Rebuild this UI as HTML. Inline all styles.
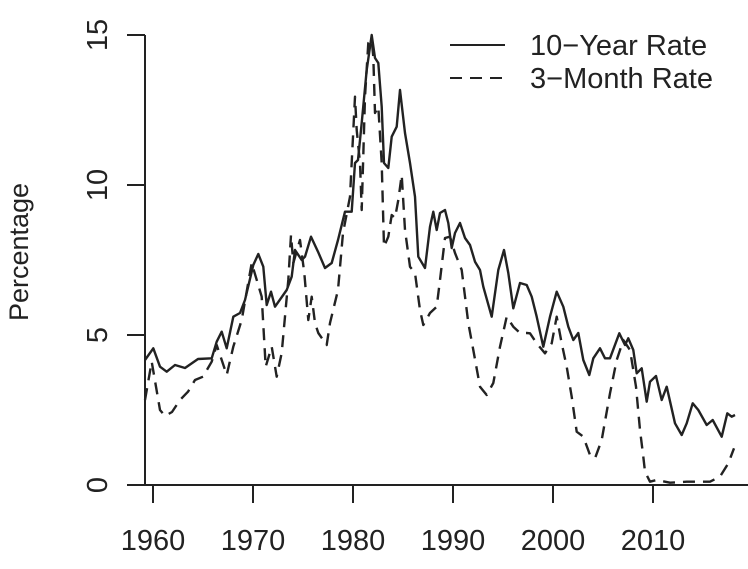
<!DOCTYPE html>
<html><head><style>body{margin:0;background:#fff}svg{display:block}text{font-family:"Liberation Sans",sans-serif;fill:#222}</style></head>
<body>
<svg width="748" height="569" viewBox="0 0 748 569">
<g stroke="#222" stroke-width="2" fill="none">
<line x1="145" y1="35" x2="145" y2="485"/>
<line x1="127" y1="35" x2="145" y2="35"/><line x1="127" y1="185" x2="145" y2="185"/><line x1="127" y1="335" x2="145" y2="335"/><line x1="127" y1="485" x2="145" y2="485"/>
<line x1="127" y1="485" x2="748" y2="485"/>
<line x1="153" y1="485" x2="153" y2="503"/><line x1="253" y1="485" x2="253" y2="503"/><line x1="353" y1="485" x2="353" y2="503"/><line x1="453" y1="485" x2="453" y2="503"/><line x1="553" y1="485" x2="553" y2="503"/><line x1="653" y1="485" x2="653" y2="503"/>
<line x1="450" y1="45" x2="505" y2="45"/>
<line x1="450" y1="78" x2="505" y2="78" stroke-dasharray="12,8"/>
</g>
<g stroke="#222" stroke-width="2.4" fill="none" stroke-linejoin="round">
<path d="M145,360 L153.3,348.3 L160,366.7 L166.7,371.7 L175,365 L185,368 L198,359 L211.7,358.3 L216.7,341.7 L221.7,331.7 L226.7,348.3 L233.3,316.7 L240,313 L245,300 L253.3,265 L258.3,254 L263.3,266.7 L266.7,305 L271,291.7 L275,306.7 L286.7,290 L291.7,276.7 L295,250 L301.7,260 L305,256.7 L311,236.7 L318,251.7 L325,268 L331.7,263 L338,240 L345,211.7 L351.7,211.7 L355,163 L358,160 L361.7,123 L366.7,70 L371.7,35 L375,58 L378.3,63 L381.7,106.7 L384,163 L388.3,168 L391.7,136.7 L396.7,126.7 L400,90 L405,133 L410,163 L415,196.7 L418.3,256.7 L425,268 L430,226.7 L433.3,211.7 L436.7,230 L440,213 L445,210 L448.3,223 L451.7,248 L455,233 L460,223 L465,238 L470,245 L475,261.7 L480,270 L483.3,286.7 L491.7,316.7 L498.3,270 L504,250 L508.3,273 L513.3,308.3 L520,283 L526.7,285 L531.7,296.7 L536.7,316.7 L543.3,346.7 L550,316.7 L556.7,291.7 L563.3,306.7 L568.3,326.7 L573.3,340 L578.3,333 L583.3,360 L589.3,375 L593.3,358.3 L600,348.3 L605,358.3 L610,358.3 L619.3,333.3 L625,345 L628.3,338.3 L633.3,350 L636.7,373.3 L641.7,368.3 L646.7,401.7 L650,381.7 L656,376 L661.7,400 L666.7,386.7 L675,423.3 L681.7,435 L686.7,423.3 L692.7,403.3 L698.3,410 L706.7,425 L712.7,420 L721.7,436.7 L727.3,413.3 L731.7,416.7 L735,415"/>
<path stroke-dasharray="12,8" d="M145,400 L151.7,361.7 L160,410 L165,416 L172,412 L180,400 L188,391.7 L195,380 L203,376.7 L211.7,361.7 L216.7,345 L226.7,375 L233.3,346.7 L241.7,320 L251.7,263 L261.7,296.7 L265.7,366.7 L271.7,346.7 L276.7,376.7 L281.7,353 L288.3,280 L291,235 L293.3,263 L300,240 L304.3,273 L308.3,320 L311.7,296.7 L315,323 L318.3,333 L326.7,345 L330,323 L338,290 L343,233 L350,196.7 L355,96.7 L356.7,130 L360,163 L361.7,210 L365,96.7 L368.3,43 L371.7,40 L373.3,56.7 L375,113 L378.3,106.7 L381.7,163 L384,246.7 L388.3,236.7 L391.7,215 L395,218 L398.3,200 L401.7,175 L405,230 L410,266.7 L415,273 L420,310 L423.3,325 L430,313 L436.7,306.7 L440,280 L445,238 L450,236.7 L455,253 L461.7,270 L468.3,323 L473.3,350 L480,386.7 L486.7,395 L493.3,383 L500,346.7 L506.7,316.7 L513.3,326.7 L520,333 L526.7,333 L530,333.3 L536.7,343.3 L545,353.3 L551.7,343.3 L556.7,316.7 L561.7,343.3 L566.7,366.7 L571.7,396.7 L576.7,431.7 L583.3,436.7 L590,455 L595,458.3 L601.7,440 L610,393.3 L616.7,360 L623.3,340 L630,350 L636,386.7 L640,430 L643.3,456.7 L645,471.7 L650,481.7 L656.7,480 L670,482.7 L686.7,481.7 L710,481.7 L720,476.7 L728.3,463.3 L734,448.3"/>
</g>
<g font-size="29" text-anchor="middle">
<text x="153" y="550">1960</text><text x="253" y="550">1970</text><text x="353" y="550">1980</text><text x="453" y="550">1990</text><text x="553" y="550">2000</text><text x="653" y="550">2010</text>
<text transform="translate(107,485) rotate(-90)">0</text>
<text transform="translate(107,335) rotate(-90)">5</text>
<text transform="translate(107,185) rotate(-90)">10</text>
<text transform="translate(107,35) rotate(-90)">15</text>
</g>
<text transform="translate(28,252) rotate(-90)" font-size="27" text-anchor="middle">Percentage</text>
<g font-size="29"><text x="530" y="55">10−Year Rate</text><text x="530" y="88">3−Month Rate</text></g>
</svg>
</body></html>
